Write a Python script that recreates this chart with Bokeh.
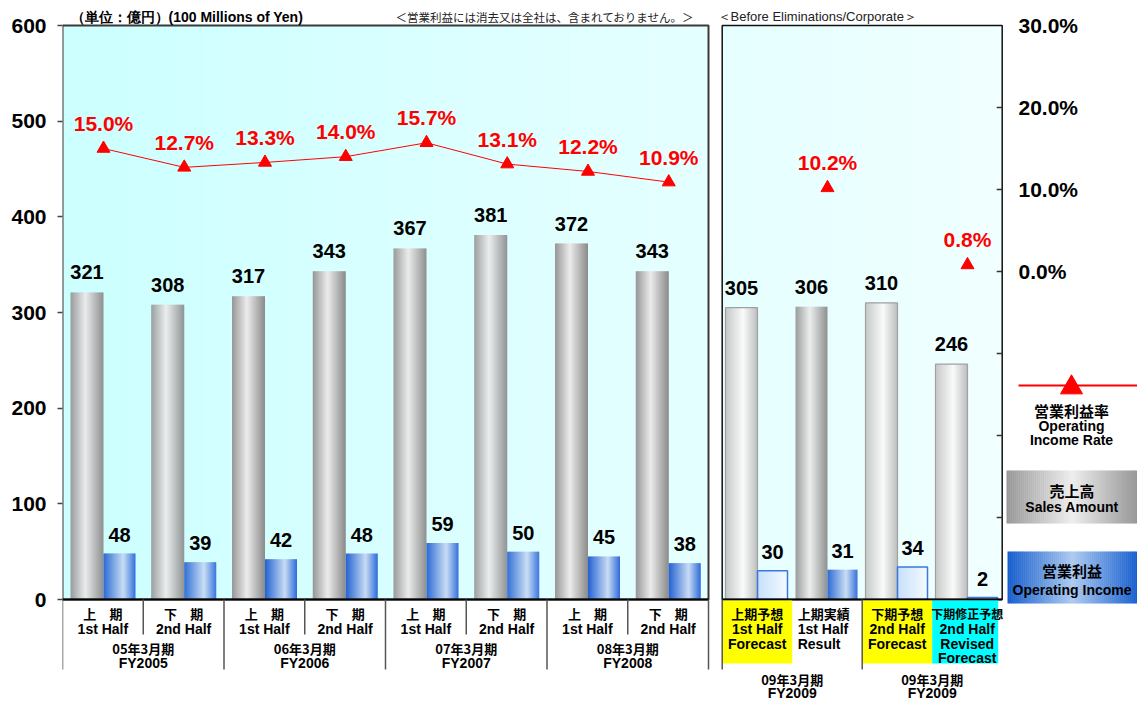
from bokeh.plotting import figure
from bokeh.models import Range1d, FixedTicker, ColumnDataSource
from bokeh.core.properties import value
from bokeh.embed import file_html
from bokeh.resources import INLINE

# ---------------- data ----------------
fy_jp = ["05年3月期", "06年3月期", "07年3月期", "08年3月期"]
fy_en = ["FY2005", "FY2006", "FY2007", "FY2008"]
half_jp = ["上　期", "下　期"]
half_en = ["1st Half", "2nd Half"]
sales_hist = [321, 308, 317, 343, 367, 381, 372, 343]
oi_hist = [48, 39, 42, 48, 59, 50, 45, 38]
rate_hist = [15.0, 12.7, 13.3, 14.0, 15.7, 13.1, 12.2, 10.9]

fc_lines = [["上期予想", "1st Half", "Forecast"],
            ["上期実績", "1st Half", "Result"],
            ["下期予想", "2nd Half", "Forecast"],
            ["下期修正予想", "2nd Half", "Revised", "Forecast"]]
fc_is_plan = [True, False, True, True]
sales_fc = [305, 306, 310, 246]
oi_fc = [30, 31, 34, 2]
rate_fc = [None, 10.2, None, 0.8]
fy09_jp = ["09年3月期", "09年3月期"]
fy09_en = ["FY2009", "FY2009"]

sales_ticks = [0, 100, 200, 300, 400, 500, 600]
rate_ticks = [0, 10, 20, 30]
rate_small_ticks = [-30, -20, -10, 0, 10, 20]

title_left = "（単位：億円）(100 Millions of Yen)"
title_mid = "＜営業利益には消去又は全社は、含まれておりません。＞"
title_right = "＜Before Eliminations/Corporate＞"
legend_rate = ["営業利益率", "Operating", "Income Rate"]
legend_sales = ["売上高", "Sales Amount"]
legend_oi = ["営業利益", "Operating Income"]

# ---------------- layout (page pixels) ----------------
W, H = 1137, 701
OX, OY = 0, 0
PB = OY + H
L0, LW = 62.0, 80.75          # left panel start / slot width
R0, RW = 721.7, 70.0          # right panel start / slot width
Y0, YTOP = 599.0, 25.0        # y of 0 and of 600
k = (Y0 - YTOP) / 600.0
kr = (Y0 - YTOP) / 70.0
LEND = L0 + 8 * LW
REND = R0 + 4 * RW

JP = "Noto Sans CJK JP"
LAT = "Liberation Sans"

GRAY = [(0, (150, 150, 150)), (0.45, (236, 236, 236)), (1, (138, 138, 138))]
GRAY_L = [(0, (196, 196, 196)), (0.55, (250, 250, 250)), (1, (186, 186, 186))]
BLUE = [(0, (36, 98, 210)), (0.62, (200, 220, 244)), (1, (44, 106, 218))]
BLUE_L = [(0, (198, 222, 252)), (1, (244, 250, 255))]
BG = [(0, (204, 255, 255)), (1, (240, 255, 255))]
LEG_GRAY = [(0, (150, 150, 150)), (0.5, (238, 238, 238)), (1, (150, 150, 150))]
LEG_BLUE = [(0, (20, 92, 204)), (0.5, (172, 202, 240)), (1, (22, 94, 206))]


def col(stops, t):
    for (t0, c0), (t1, c1) in zip(stops[:-1], stops[1:]):
        if t <= t1:
            f = (t - t0) / (t1 - t0) if t1 > t0 else 0
            c = [round(a + (b - a) * f) for a, b in zip(c0, c1)]
            return "#%02x%02x%02x" % tuple(c)
    return "#%02x%02x%02x" % stops[-1][1]


def strips(acc, x0, x1, b, t, stops, step=1.0, t0=0.0, t1=1.0):
    n = max(1, int(round((x1 - x0) / step)))
    for i in range(n):
        a = x0 + (x1 - x0) * i / n
        c = x0 + (x1 - x0) * (i + 1) / n
        acc["left"].append(a)
        acc["right"].append(c + (0.4 if i < n - 1 else 0))
        acc["bottom"].append(b)
        acc["top"].append(t)
        acc["color"].append(col(stops, t0 + (t1 - t0) * (i + 0.5) / n))


def new_acc():
    return dict(left=[], right=[], bottom=[], top=[], color=[])


p = figure(width=W, height=H, x_range=Range1d(L0, OX + W),
           y_range=Range1d(-(PB - Y0) / k, (Y0 - OY) / k),
           output_backend="svg", toolbar_location=None, x_axis_location=None,
           min_border_left=int(L0 - OX), min_border_right=0, min_border_top=0, min_border_bottom=0)
p.extra_y_ranges = {"rate": Range1d(-40 - (PB - Y0) / kr, (Y0 - OY) / kr - 40),
                    "px": Range1d(PB, OY)}
p.grid.visible = False
p.outline_line_color = None
p.background_fill_color = "white"
p.border_fill_color = "white"

ax = p.yaxis[0]
ax.ticker = FixedTicker(ticks=sales_ticks)
ax.axis_line_color = None
ax.major_tick_out = 5
ax.major_tick_in = 0
ax.minor_tick_out = 0
ax.minor_tick_in = 0
ax.major_tick_line_color = "#444444"
ax.major_tick_line_width = 1.5
ax.major_label_text_font = LAT
ax.major_label_text_font_style = "bold"
ax.major_label_text_font_size = "21px"
ax.major_label_text_color = "black"
ax.major_label_standoff = 11

# backgrounds
span = REND - L0
bg = new_acc()
strips(bg, L0, LEND, 0, 600, BG, 3, 0, (LEND - L0) / span)
strips(bg, R0, REND, 0, 600, BG, 3, (R0 - L0) / span, 1)
p.quad(source=ColumnDataSource(bg), left="left", right="right", bottom="bottom", top="top",
       fill_color="color", line_color=None)

# bars
bars = new_acc()
outl_g = dict(left=[], right=[], top=[])
outl_b = dict(left=[], right=[], top=[])
for i, (s, o) in enumerate(zip(sales_hist, oi_hist)):
    x = L0 + i * LW
    strips(bars, x + 8, x + 41, 0, s, GRAY)
    strips(bars, x + 41, x + 73, 0, o, BLUE)
for j, (s, o) in enumerate(zip(sales_fc, oi_fc)):
    x = R0 + j * RW
    plan = fc_is_plan[j]
    strips(bars, x + 3.3, x + 35.3, 0, s, GRAY_L if plan else GRAY)
    strips(bars, x + 35.3, x + 65.3, 0, o, BLUE_L if plan else BLUE)
    if plan:
        outl_g["left"].append(x + 3.3); outl_g["right"].append(x + 35.3); outl_g["top"].append(s)
        outl_b["left"].append(x + 35.3); outl_b["right"].append(x + 65.3); outl_b["top"].append(o)
p.quad(source=ColumnDataSource(bars), left="left", right="right", bottom="bottom", top="top",
       fill_color="color", line_color=None)
p.quad(left=outl_g["left"], right=outl_g["right"], bottom=0, top=outl_g["top"],
       fill_color=None, line_color="#a0a0a0", line_width=1.2)
p.quad(left=outl_b["left"], right=outl_b["right"], bottom=0, top=outl_b["top"],
       fill_color=None, line_color="#3a78e0", line_width=1.5)

# panel borders
p.quad(left=[L0], right=[LEND], bottom=[0], top=[600], fill_color=None,
       line_color="#3a3a3a", line_width=2)
p.quad(left=[R0], right=[REND], bottom=[0], top=[600], fill_color=None,
       line_color="#111111", line_width=1.5)
p.segment(x0=[L0, R0], y0=[0, 0], x1=[LEND, REND], y1=[0, 0], line_color="black", line_width=2)

# right-axis ticks and labels
p.segment(x0=[REND - 5.5] * len(rate_small_ticks), x1=[REND] * len(rate_small_ticks),
          y0=rate_small_ticks, y1=rate_small_ticks, y_range_name="rate",
          line_color="#333333", line_width=1.5)


def txt(xs, ys, texts, size, font=LAT, style="bold", color="black", align="center",
        baseline="middle", rng="px"):
    p.text(x=xs, y=ys, text=texts, text_font=value(font), text_font_size=value(f"{size}px"),
           text_font_style=style, text_color=color, text_align=align,
           text_baseline=baseline, y_range_name=rng)


txt([1018] * len(rate_ticks), rate_ticks, [f"{t:.1f}%" for t in rate_ticks], 21,
    align="left", rng="rate")

# rate line and markers
hx = [L0 + i * LW + 41 for i in range(8)]
p.line(hx, rate_hist, y_range_name="rate", line_color="#ff0000", line_width=1)
fx = [R0 + j * RW + 35.3 for j, r in enumerate(rate_fc) if r is not None]
fr = [r for r in rate_fc if r is not None]
p.scatter(hx + fx, rate_hist + fr, y_range_name="rate", marker="triangle", size=13,
          fill_color="#ff0000", line_color="#ff0000")
txt(hx + fx, [r + 25 / kr for r in rate_hist + fr], [f"{r:.1f}%" for r in rate_hist + fr],
    21, color="#ff0000", rng="rate")

# value labels
gx = [L0 + i * LW + 24.5 for i in range(8)] + [R0 + j * RW + 19.3 for j in range(4)]
bx = [L0 + i * LW + 57 for i in range(8)] + [R0 + j * RW + 50.3 for j in range(4)]
sv = sales_hist + sales_fc
ov = oi_hist + oi_fc
txt(gx, [v + 20 / k for v in sv], [str(v) for v in sv], 20, rng="default")
txt(bx, [v + 19 / k for v in ov], [str(v) for v in ov], 20, rng="default")

# top texts
txt([70], [16], [title_left], 14, align="left")
txt([395], [16], [title_mid], 11.5, font=JP, style="normal", color="#222222", align="left")
txt([717], [16], [title_right], 13, style="normal", color="#222222", align="left")

# category area
sep_x, sep_y1 = [], []
for i in range(9):
    sep_x.append(L0 + i * LW)
    sep_y1.append(669 if i % 2 == 0 else 634)
sep_x += [R0, R0 + 2 * RW]
sep_y1 += [669, 669]
box_l = [R0, R0 + 2 * RW, R0 + 3 * RW]
box_r = [R0 + RW, R0 + 3 * RW, REND - 4]
p.quad(left=box_l, right=box_r, top=[600] * 3, bottom=[663] * 3,
       fill_color=["#ffff00", "#ffff00", "#00ffff"], line_color=None, y_range_name="px")
p.segment(x0=sep_x, x1=sep_x, y0=[Y0] * len(sep_x), y1=sep_y1, y_range_name="px",
          line_color="#555555", line_width=1.5)

slot_c = [L0 + (i + 0.5) * LW for i in range(8)]
txt(slot_c, [613] * 8, [half_jp[i % 2] for i in range(8)], 13, font=JP)
txt(slot_c, [628] * 8, [half_en[i % 2] for i in range(8)], 14)
grp_c = [L0 + (2 * g + 1) * LW for g in range(4)]
txt(grp_c, [648] * 4, fy_jp, 13, font=JP)
txt(grp_c, [662] * 4, fy_en, 14)

row_y = [613, 628, 643, 657]
for j, lines in enumerate(fc_lines):
    if fc_is_plan[j]:
        xx, al = R0 + (j + 0.5) * RW, "center"
    else:
        xx, al = R0 + j * RW + 5.5, "left"
    for r, line in enumerate(lines):
        size = 12 if len(line) > 5 and r == 0 else (13 if r == 0 else 14)
        txt([xx], [row_y[r]], [line], size, font=JP if r == 0 else LAT, align=al)
g9 = [R0 + RW, R0 + 3 * RW]
txt(g9, [679, 679], fy09_jp, 13, font=JP)
txt(g9, [692, 692], fy09_en, 14)

# legend
LC = 1071.5
p.segment(x0=[1018], x1=[OX + W], y0=[385], y1=[385], y_range_name="px",
          line_color="#ff0000", line_width=2)
p.scatter([1071], [387], y_range_name="px", marker="triangle", size=22,
          fill_color="#ff0000", line_color="#ff0000")
txt([1071], [410], [legend_rate[0]], 15, font=JP)
txt([1071, 1071], [425, 439], legend_rate[1:], 14)
lg = new_acc()
strips(lg, 1006, OX + W, 470, 523, LEG_GRAY, 2)
strips(lg, 1007, OX + W, 551, 603, LEG_BLUE, 2)
p.quad(source=ColumnDataSource(lg), left="left", right="right", bottom="bottom", top="top",
       fill_color="color", line_color=None, y_range_name="px")
txt([LC], [490], [legend_sales[0]], 15, font=JP)
txt([LC], [506], [legend_sales[1]], 14)
txt([LC], [570], [legend_oi[0]], 15, font=JP)
txt([LC], [589], [legend_oi[1]], 14)

open("out.html", "w").write(file_html(p, INLINE))
